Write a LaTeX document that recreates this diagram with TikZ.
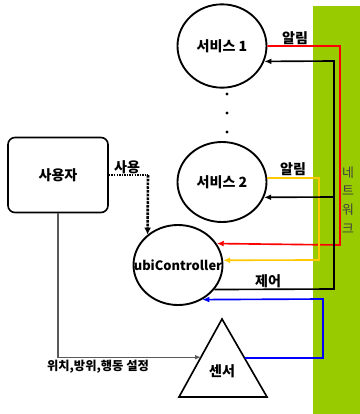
\documentclass[tikz,border=0pt]{standalone}
\usepackage{fontspec}
\newfontfamily\kr{Noto Sans CJK KR}
\usetikzlibrary{positioning,arrows.meta,shapes.geometric,calc}
\definecolor{netgreen}{RGB}{153,204,0}
\definecolor{linkyellow}{RGB}{255,200,0}

\begin{document}
\begin{tikzpicture}[x=0.03cm,y=-0.03cm,
		txt/.style={font=\kr\bfseries\fontsize{12}{14}\selectfont,inner sep=1pt},
		svc/.style={draw,line width=1.6pt,ellipse,inner sep=0pt,minimum width=2.67cm,minimum height=2.5cm,txt},
		wire/.style={line width=1.4pt,-{Latex[length=6pt,width=5pt]}}]
			\useasboundingbox (0,0) rectangle (360,414);
			
			% network bar
			\fill[netgreen] (313,6) rectangle (360,414);
			\node[font=\kr\fontsize{11}{16}\selectfont,text=black!75,align=center] (net) at (348,200) {네\\트\\워\\크};
			
			\node[svc] (svc1) at (222,46) {서비스 1};
			\node[svc,minimum height=2.4cm] (svc2) at (222,182) {서비스 2};
			\foreach \y in {94,113,132}
			\fill (227,\y) circle (1.6);
			
			\node[svc,minimum height=2.4cm] (ctrl) at (178,265) {};
			\node[font=\kr\bfseries\fontsize{11}{13}\selectfont] (ctrltxt) at (ctrl) {ubiController};
			\node[draw,line width=1.4pt,rounded corners=6pt,minimum width=3cm,minimum height=2.25cm,txt] (user) at (58,175) {사용자};
			
			% sensor
			\draw[line width=1.4pt] (222,319) coordinate (stop) -- (179,397) coordinate (sleft) -- (267,397) coordinate (sright) -- cycle;
			\node[txt] (sensor) at (222,371) {센서};
			\coordinate (sin) at ($(stop)!0.49!(sleft)$);
			\coordinate (sout) at ($(stop)!0.5!(sright)$);
			
			% connectors
			\draw[wire,red] (svc1.east) -| (340,245) -- (ctrl.29);
			\node[txt,above] (alarm1) at (295,46) {알림};
			\draw[wire,linkyellow] (svc2.5) -| (319,260) -- (ctrl.6);
			\node[txt,above] (alarm2) at (293,177) {알림};
			\draw[wire,black] (ctrl.-34) -- (334,289) coordinate (cbot) -- (334,61) -- (svc1.-20);
			\draw[wire,black] (334,197) -- (svc2.-20);
			\node[txt,above] (ctl) at (268,289) {제어};
			\draw[wire,blue] (sout) -- (323,358) -- (323,299) -- (ctrl.-55);
			\draw[line width=1.2pt,densely dotted] (user.east |- 0,175) -- (148,175) coordinate (ubend);
			\draw[line width=2.2pt,densely dotted,-{Latex[length=6pt,width=6pt]}] (ubend) -- (ctrl.135);
			\node[txt,above] (use) at (127,175) {사용};
			\draw[line width=1pt,gray!70!black,-{Latex[length=5pt,width=4pt]}] (user.south) |- (sin);
			\node[txt,font=\kr\bfseries\fontsize{10.5}{13}\selectfont,below] (set) at (98,359) {위치,방위,행동 설정};
			\end{tikzpicture}
\end{document}
